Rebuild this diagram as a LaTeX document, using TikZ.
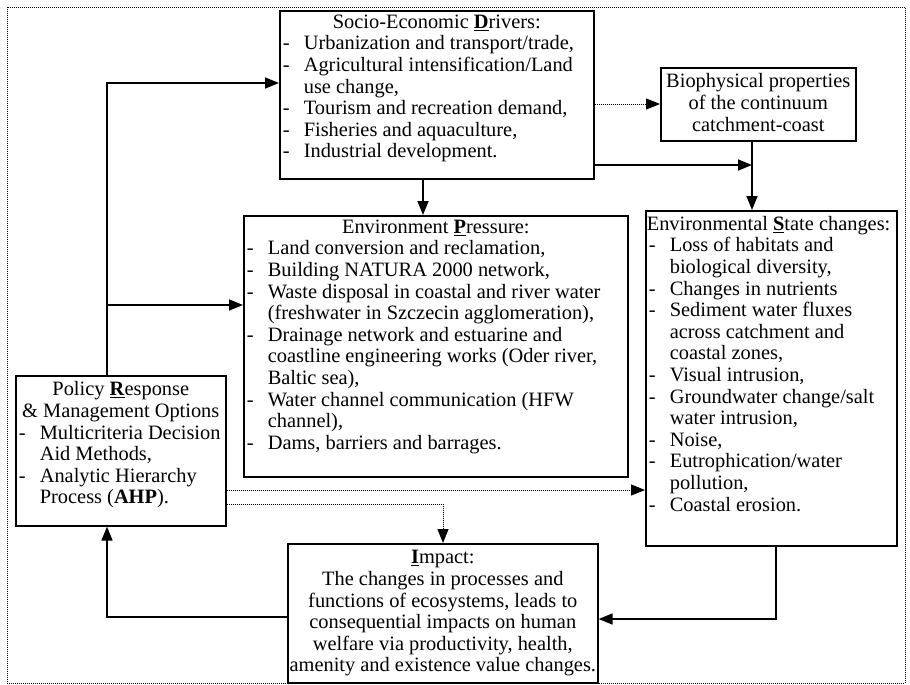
\documentclass[tikz,border=0pt]{standalone}
\usepackage{fontspec}
\setmainfont{Liberation Serif}
\usetikzlibrary{arrows.meta}

% text block of fixed size: width, height, first-baseline drop, body
\newcommand{\blk}[4]{\parbox[c][#2][t]{#1}{\fontsize{20.4}{21.6}\selectfont\rule{0pt}{#3}#4}}
% bulleted line and continuation line
\newcommand{\itm}[1]{\makebox[24pt][l]{\hspace{3pt}-}#1}
\newcommand{\cnt}[1]{\hspace*{24pt}#1}
\newcommand{\key}[1]{\underline{\textbf{#1}}}

\begin{document}
\begin{tikzpicture}[x=1pt,y=-1pt,
  box/.style={draw,line width=1.6pt,inner sep=0pt,anchor=north west},
  link/.style={line width=1.6pt,-{Triangle[length=14pt,width=11pt]}},
  dlink/.style={line width=1pt,dash pattern=on 1pt off 1pt,-{Triangle[length=14pt,width=11pt]}}]
\useasboundingbox (0,0) rectangle (910,685);

% outer frame
\draw[line width=0.8pt,dash pattern=on 1pt off 1pt] (7,7) rectangle (905,683);

% boxes
\node[box] (drivers) at (279,10) {\blk{314pt}{168pt}{17.5pt}{%
  \centering Socio-Economic \key{D}rivers:\par\raggedright
  \itm{Urbanization and transport/trade,}\\
  \itm{Agricultural intensification/Land}\\
  \cnt{use change,}\\
  \itm{Tourism and recreation demand,}\\
  \itm{Fisheries and aquaculture,}\\
  \itm{Industrial development.}}};

\node[box] (bio) at (660,67) {\blk{195pt}{73pt}{20pt}{\centering
  Biophysical properties\\ of the continuum\\ catchment-coast}};

\node[box] (pressure) at (243,215) {\blk{384pt}{261pt}{17.5pt}{%
  \centering Environment \key{P}ressure:\par\raggedright
  \itm{Land conversion and reclamation,}\\
  \itm{Building NATURA 2000 network,}\\
  \itm{Waste disposal in coastal and river water}\\
  \cnt{(freshwater in Szczecin agglomeration),}\\
  \itm{Drainage network and estuarine and}\\
  \cnt{coastline engineering works (Oder river,}\\
  \cnt{Baltic sea),}\\
  \itm{Water channel communication (HFW}\\
  \cnt{channel),}\\
  \itm{Dams, barriers and barrages.}}};

\node[box] (state) at (645,210) {\blk{251pt}{335pt}{19.5pt}{\raggedright
  \hspace*{1pt}Environmental \key{S}tate changes:\\
  \itm{Loss of habitats and}\\
  \cnt{biological diversity,}\\
  \itm{Changes in nutrients}\\
  \itm{Sediment water fluxes}\\
  \cnt{across catchment and}\\
  \cnt{coastal zones,}\\
  \itm{Visual intrusion,}\\
  \itm{Groundwater change/salt}\\
  \cnt{water intrusion,}\\
  \itm{Noise,}\\
  \itm{Eutrophication/water}\\
  \cnt{pollution,}\\
  \itm{Coastal erosion.}}};

\node[box] (policy) at (15,375) {\blk{210pt}{150pt}{20pt}{%
  \centering Policy \key{R}esponse\\ \& Management Options\par\raggedright
  \itm{Multicriteria Decision}\\
  \cnt{Aid Methods,}\\
  \itm{Analytic Hierarchy}\\
  \cnt{Process (\textbf{AHP}).}}};

\node[box] (impact) at (287,543) {\blk{310pt}{139pt}{20pt}{\centering
  \key{I}mpact:\\
  The changes in processes and\\
  functions of ecosystems, leads to\\
  consequential impacts on human\\
  welfare via productivity, health,\\
  amenity and existence value changes.}};

% routing points
\coordinate (lft) at (107,83);
\coordinate (br)  at (107,305);
\coordinate (dp)  at (423,0);
\coordinate (db)  at (0,104);
\coordinate (j1)  at (752,165);
\coordinate (pd1) at (0,490);
\coordinate (pd2) at (443,504);
\coordinate (ip)  at (107,617);
\coordinate (si)  at (776,619);

% connectors
\draw[link] (lft |- policy.north) -- (lft) -- (lft -| drivers.west);
\draw[link] (br) -- (br -| pressure.west);
\draw[link] (dp |- drivers.south) -- (dp |- pressure.north);
\draw[dlink] (db -| drivers.east) -- (db -| bio.west);
\draw[link] (j1 -| drivers.east) -- (j1);
\draw[link] (j1 |- bio.south) -- (j1 |- state.north);
\draw[dlink] (pd1 -| policy.east) -- (pd1 -| state.west);
\draw[dlink] (pd2 -| policy.east) -- (pd2) -- (pd2 |- impact.north);
\draw[link] (ip -| impact.west) -- (ip) -- (ip |- policy.south);
\draw[link] (si |- state.south) -- (si) -- (si -| impact.east);
\end{tikzpicture}
\end{document}
